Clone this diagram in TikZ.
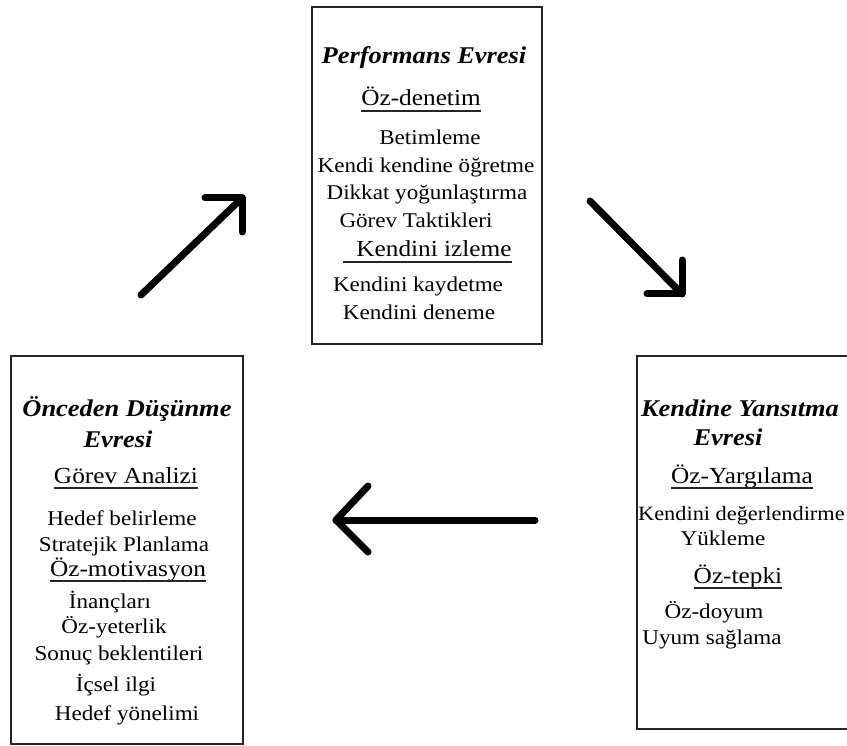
\documentclass[tikz,border=0pt]{standalone}
\usepackage{fontspec}
\setmainfont{Liberation Serif}[FakeStretch=1.1]
\begin{document}
\begin{tikzpicture}[x=1pt,y=-1pt,
  boxline/.style={draw=black!85, line width=1.6pt, inner sep=0pt, anchor=north west},
  body/.style={inner sep=0pt, font=\fontsize{21}{25}\selectfont, anchor=base},
  bodyw/.style={inner sep=0pt, font=\fontsize{20.3}{25}\selectfont, anchor=base west},
  sub/.style={inner sep=0pt, font=\fontsize{23}{27}\selectfont, anchor=base},
  ttl/.style={inner sep=0pt, font=\fontsize{24}{28}\selectfont\bfseries\itshape, anchor=base},
  ulline/.style={line width=1.4pt, draw=black!85},
  bigarrow/.style={line width=7pt, line cap=round, line join=round}]
\useasboundingbox (0,0) rectangle (847,746);
\clip (0,0) rectangle (847,746);

% boxes
\node[boxline, minimum width=230pt, minimum height=337pt] (perf) at (311,6) {};
\node[boxline, minimum width=232pt, minimum height=388pt] (once) at (10,355) {};
\node[boxline, minimum width=300pt, minimum height=373pt] (yans) at (636,355) {};

% top box
\node[ttl] (p0) at (424,64) {Performans Evresi};
\node[sub] (p1) at (421,106) {Öz-denetim};
\node[body] (p2) at (430,145) {Betimleme};
\node[body] (p3) at (426,173) {Kendi kendine öğretme};
\node[body] (p4) at (427,200) {Dikkat yoğunlaştırma};
\node[body] (p5) at (416,228) {Görev Taktikleri};
\node[sub] (p6) at (434,257) {Kendini izleme};
\node[body] (p7) at (418,292) {Kendini kaydetme};
\node[body] (p8) at (419,320) {Kendini deneme};
\draw[ulline] ([yshift=-5pt]p1.base west) -- ([yshift=-5pt]p1.base east);
\coordinate (p6u) at (343,262);
\draw[ulline] (p6u) -- ([yshift=-5pt]p6.base east);

% left box
\node[ttl] (l0) at (127,417) {Önceden Düşünme};
\node[ttl] (l1) at (118,447) {Evresi};
\node[sub] (l2) at (126,483) {Görev Analizi};
\node[body] (l3) at (122,525) {Hedef belirleme};
\node[body] (l4) at (124,551) {Stratejik Planlama};
\node[sub] (l5) at (128,576) {Öz-motivasyon};
\node[body] (l6) at (110,608) {İnançları};
\node[body] (l7) at (114,633) {Öz-yeterlik};
\node[body] (l8) at (119,660) {Sonuç beklentileri};
\node[body] (l9) at (116,691) {İçsel ilgi};
\node[body] (l10) at (127,720) {Hedef yönelimi};
\draw[ulline] ([yshift=-5pt]l2.base west) -- ([yshift=-5pt]l2.base east);
\draw[ulline] ([yshift=-5pt]l5.base west) -- ([yshift=-5pt]l5.base east);

% right box
\node[ttl] (r0) at (740,417) {Kendine Yansıtma};
\node[ttl] (r1) at (728,445) {Evresi};
\node[sub] (r2) at (742,483) {Öz-Yargılama};
\node[bodyw] (r3) at (638,520) {Kendini değerlendirme};
\node[body] (r4) at (723,545) {Yükleme};
\node[sub] (r5) at (738,583) {Öz-tepki};
\node[body] (r6) at (714,618) {Öz-doyum};
\node[body] (r7) at (712,644) {Uyum sağlama};
\draw[ulline] ([yshift=-5pt]r2.base west) -- ([yshift=-5pt]r2.base east);
\draw[ulline] ([yshift=-5pt]r5.base west) -- ([yshift=-5pt]r5.base east);

% arrows
\coordinate (a1s) at (141,295);
\coordinate (a1t) at (242,198);
\coordinate (a1h1) at (205,198);
\coordinate (a1h2) at (242,232);
\draw[bigarrow] (a1s) -- (a1t);
\draw[bigarrow] (a1h1) -- (a1t) -- (a1h2);

\coordinate (a2s) at (590,201);
\coordinate (a2t) at (682,294);
\coordinate (a2h1) at (682,260);
\coordinate (a2h2) at (647,294);
\draw[bigarrow] (a2s) -- (a2t);
\draw[bigarrow] (a2h1) -- (a2t) -- (a2h2);

\coordinate (a3s) at (535,520);
\coordinate (a3t) at (336,520);
\coordinate (a3h1) at (368,486);
\coordinate (a3h2) at (368,552);
\draw[bigarrow] (a3s) -- (a3t);
\draw[bigarrow] (a3h1) -- (a3t) -- (a3h2);
\end{tikzpicture}
\end{document}
